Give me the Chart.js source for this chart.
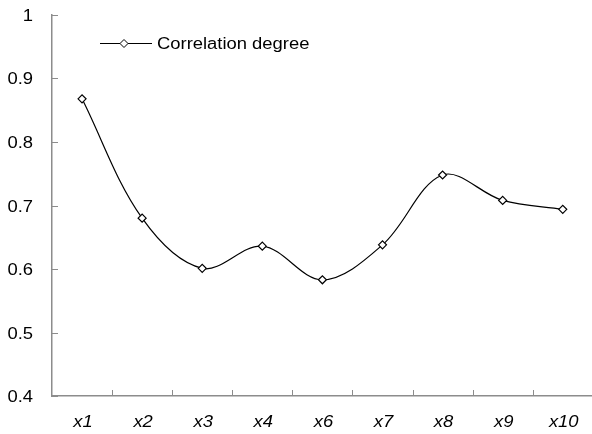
<!DOCTYPE html>
<html>
<head>
<meta charset="utf-8">
<script src="https://cdn.jsdelivr.net/npm/chart.js@4"></script>
<style>
  html, body { margin: 0; padding: 0; background: #fff; overflow: hidden; }
  #wrap { position: relative; width: 598px; height: 434px; }
</style>
</head>
<body>
<div id="wrap"><canvas id="chart"></canvas></div>
<script>
  const categories = ["x1", "x2", "x3", "x4", "x6", "x7", "x8", "x9", "x10"];
  const correlation = [0.868, 0.680, 0.601, 0.636, 0.583, 0.638, 0.748, 0.708, 0.694];
  const yTicks = [0.4, 0.5, 0.6, 0.7, 0.8, 0.9, 1];
  const seriesName = "Correlation degree";

  const axisColor = "#8c8c8c";
  const font = "Liberation Sans, Arial, sans-serif";
  const stretch = 1.15; // the source text is a bit wider than plain Arial

  function wideText(ctx, text, x, y, align) {
    ctx.save();
    ctx.translate(x, y);
    ctx.scale(stretch, 1);
    ctx.textAlign = align;
    ctx.fillText(text, 0, 0);
    ctx.restore();
  }

  // tick marks, tick labels and legend
  const decorations = {
    id: "decorations",
    afterDraw(chart) {
      const ctx = chart.ctx;
      const x = chart.scales.x;
      const y = chart.scales.y;
      const area = chart.chartArea;
      ctx.save();
      ctx.strokeStyle = axisColor;
      ctx.lineWidth = 1;
      ctx.fillStyle = "#000";
      ctx.textBaseline = "middle";

      // y ticks + labels
      ctx.font = "16px " + font;
      yTicks.forEach(v => {
        const py = Math.round(y.getPixelForValue(v)) + 0.5;
        ctx.beginPath();
        ctx.moveTo(area.left, py);
        ctx.lineTo(area.left + 6, py);
        ctx.stroke();
        wideText(ctx, String(v), 33, py + 1, "right");
      });

      // x ticks at category boundaries + labels
      const step = x.getPixelForTick(1) - x.getPixelForTick(0);
      ctx.font = "italic 16px " + font;
      categories.forEach((c, i) => {
        const cx = x.getPixelForTick(i);
        const px = Math.round(cx + step / 2) + 0.5;
        ctx.beginPath();
        ctx.moveTo(px, area.bottom);
        ctx.lineTo(px, area.bottom - 6);
        ctx.stroke();
        wideText(ctx, c, cx + 1, area.bottom + 27, "center");
      });

      // legend
      const ly = 43.5;
      ctx.strokeStyle = "#000";
      ctx.beginPath();
      ctx.moveTo(100, ly);
      ctx.lineTo(152, ly);
      ctx.stroke();
      ctx.fillStyle = "#fff";
      ctx.beginPath();
      ctx.moveTo(124, ly - 4);
      ctx.lineTo(128, ly);
      ctx.lineTo(124, ly + 4);
      ctx.lineTo(120, ly);
      ctx.closePath();
      ctx.fill();
      ctx.stroke();
      ctx.fillStyle = "#000";
      ctx.font = "16px " + font;
      wideText(ctx, seriesName, 157, ly + 1, "left");
      ctx.restore();
    }
  };

  new Chart(document.getElementById("chart"), {
    type: "line",
    data: {
      labels: categories,
      datasets: [{
        label: seriesName,
        data: correlation,
        borderColor: "#000",
        borderWidth: 1.2,
        tension: 0.35,
        pointStyle: "rectRot",
        pointRadius: 4,
        pointBackgroundColor: "#fff",
        pointBorderColor: "#000",
        pointBorderWidth: 1.2
      }]
    },
    options: {
      responsive: true,
      maintainAspectRatio: false,
      animation: false,
      layout: { padding: { top: 15, right: 0, left: 0, bottom: 0 } },
      plugins: { legend: { display: false }, tooltip: { enabled: false } },
      scales: {
        x: {
          offset: true,
          grid: { display: false, drawTicks: false },
          border: { color: axisColor, width: 1.5 },
          ticks: { display: false },
          afterFit(s) { s.height = 38; }
        },
        y: {
          min: 0.4,
          max: 1,
          grid: { display: false, drawTicks: false },
          border: { color: axisColor, width: 1.5 },
          afterBuildTicks(s) { s.ticks = yTicks.map(v => ({ value: v })); },
          ticks: { display: false },
          afterFit(s) { s.width = 52; }
        }
      }
    },
    plugins: [decorations]
  });
</script>
</body>
</html>
